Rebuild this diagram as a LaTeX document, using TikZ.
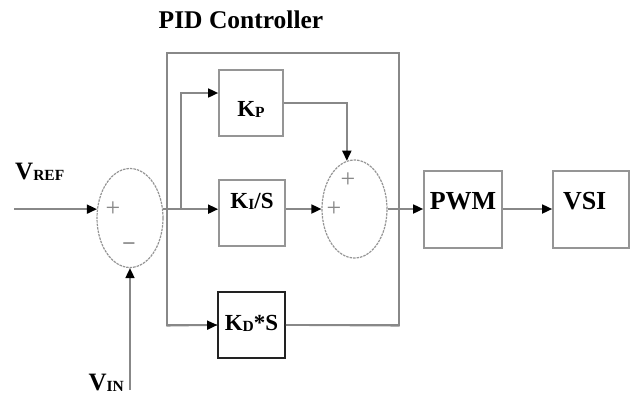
\documentclass[tikz,border=0pt]{standalone}
\usepackage{fontspec}
\setmainfont{Liberation Serif}
\usepackage{tikz}
\usetikzlibrary{arrows.meta,positioning,shapes.geometric}
\definecolor{wiregray}{HTML}{888888}
\definecolor{edgegray}{HTML}{959595}
\definecolor{ink}{HTML}{222222}
\newcommand{\subcap}[1]{\raisebox{-1pt}{\fontsize{15.5}{15.5}\selectfont #1}}

\begin{document}
\begin{tikzpicture}[x=1pt,y=-1pt,font=\bfseries\fontsize{23}{23}\selectfont,
  blk/.style={draw=edgegray,line width=1.7pt,fill=white,inner sep=0pt,
              minimum width=66pt,minimum height=66pt},
  bigblk/.style={blk,minimum width=78pt,minimum height=77pt,
                 font=\bfseries\fontsize{26}{26}\selectfont},
  drop/.style={text height=#1,text depth=0pt},
  lift/.style={text height=0pt,text depth=#1},
  sumnode/.style={ellipse,draw=edgegray,dash pattern=on 2.5pt off 1pt,line width=1.2pt,
                  inner sep=0pt,minimum width=66pt,minimum height=99pt},
  sig/.style={draw=wiregray,line width=1.7pt,-{Triangle[length=10pt,width=9pt,color=black]}},
  wire/.style={draw=wiregray,line width=1.7pt},
  sign/.style={text=wiregray,font=\fontsize{26}{26}\selectfont,inner sep=0pt},
  vlabel/.style={inner sep=0pt,font=\bfseries\fontsize{25}{25}\selectfont}]
  \useasboundingbox (0,0) rectangle (632,394);

  % controller frame and title
  \node[draw=wiregray,line width=1.4pt,minimum width=232pt,minimum height=272pt,inner sep=0pt] (pid) at (283,189) {};
  \node[font=\bfseries\fontsize{25.5}{25.5}\selectfont] (title) at (241,20) {PID Controller};

  % blocks
  \node[blk,drop=26pt,minimum width=64pt] (kp) at (251,103) {K\subcap{P}};
  \node[blk,lift=10pt] (ki) at (252,213) {K\subcap{I}/S};
  \node[blk,draw=ink,drop=11pt,minimum width=67pt] (kd) at (251.5,325) {K\subcap{D}*S};
  \node[sumnode] (s1) at (130,218) {};
  \node[sumnode,minimum width=65pt,minimum height=98pt] (s2) at (354.5,209) {};
  \node[bigblk,drop=0pt] (pwm) at (463,209.5) {PWM};
  \node[bigblk,drop=0pt,minimum width=76pt,text width=56pt,align=left] (vsi) at (591,209.5) {VSI};

  % signs
  \node[sign] (p1) at (113,209) {+};
  \node[sign,font=\bfseries\fontsize{24}{24}\selectfont] (m1) at (129,247) {−};
  \node[sign] (p2a) at (348,180) {+};
  \node[sign] (p2b) at (334,209) {+};

  % inputs
  \node[vlabel,anchor=base west] (vref) at (15,179) {V\subcap{REF}};
  \node[vlabel,anchor=base east] (vin) at (124,390) {V\subcap{IN}};
  \coordinate (refin) at (14,0);
  \coordinate (inbot) at (130,390);
  \coordinate (br) at (181,0);

  % connectors
  \draw[sig] (refin |- s1.165) -- (s1.165);
  \draw[sig] (inbot) -- (s1.south);
  \draw[sig] (s1.15) -- (ki.west |- s1.15);
  \draw[sig] (br |- s1.15) |- ([yshift=10pt]kp.west);
  \draw[sig] (kp.east) -| (s2.99);
  \draw[sig] (ki.east |- s2.west) -- (s2.west);
  \draw[sig] (s2.east) -- (pwm.west |- s2.east);
  \draw[sig] (pwm.east |- s2.east) -- (vsi.west |- s2.east);
  \draw[sig] (pid.south west) -- (kd.west);
  \draw[wire] (kd.east) -- (pid.south east);
\end{tikzpicture}
\end{document}
